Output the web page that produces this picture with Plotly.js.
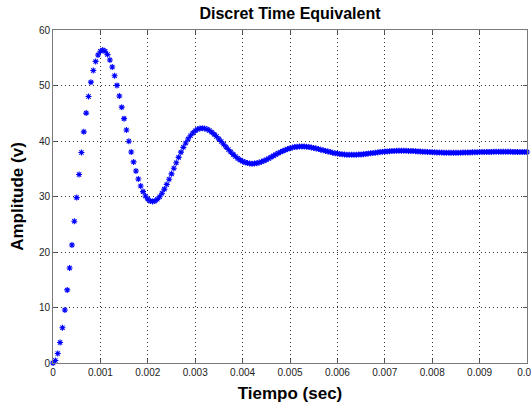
<!DOCTYPE html>
<html>
<head>
<meta charset="utf-8">
<script src="https://cdn.plot.ly/plotly-3.0.1.min.js"></script>
<style>
  html, body { margin: 0; padding: 0; background: #fff; }
  #chart { width: 531px; height: 405px; }
</style>
</head>
<body>
<div id="chart"></div>
<script>
// Sample times in milliseconds (read from the dot spacing: one sample every 0.05 ms)
const timeMs = [
  0,0.05,0.1,0.15,0.2,0.25,0.3,0.35,0.4,0.45,0.5,0.55,0.6,0.65,0.7,0.75,0.8,0.85,0.9,0.95,
  1,1.05,1.1,1.15,1.2,1.25,1.3,1.35,1.4,1.45,1.5,1.55,1.6,1.65,1.7,1.75,1.8,1.85,1.9,1.95,
  2,2.05,2.1,2.15,2.2,2.25,2.3,2.35,2.4,2.45,2.5,2.55,2.6,2.65,2.7,2.75,2.8,2.85,2.9,2.95,
  3,3.05,3.1,3.15,3.2,3.25,3.3,3.35,3.4,3.45,3.5,3.55,3.6,3.65,3.7,3.75,3.8,3.85,3.9,3.95,
  4,4.05,4.1,4.15,4.2,4.25,4.3,4.35,4.4,4.45,4.5,4.55,4.6,4.65,4.7,4.75,4.8,4.85,4.9,4.95,
  5,5.05,5.1,5.15,5.2,5.25,5.3,5.35,5.4,5.45,5.5,5.55,5.6,5.65,5.7,5.75,5.8,5.85,5.9,5.95,
  6,6.05,6.1,6.15,6.2,6.25,6.3,6.35,6.4,6.45,6.5,6.55,6.6,6.65,6.7,6.75,6.8,6.85,6.9,6.95,
  7,7.05,7.1,7.15,7.2,7.25,7.3,7.35,7.4,7.45,7.5,7.55,7.6,7.65,7.7,7.75,7.8,7.85,7.9,7.95,
  8,8.05,8.1,8.15,8.2,8.25,8.3,8.35,8.4,8.45,8.5,8.55,8.6,8.65,8.7,8.75,8.8,8.85,8.9,8.95,
  9,9.05,9.1,9.15,9.2,9.25,9.3,9.35,9.4,9.45,9.5,9.55,9.6,9.65,9.7,9.75,9.8,9.85,9.9,9.95,
  10
];

// Amplitude (v), one value per sample
const amplitude = [
  0.00,0.44,1.70,3.70,6.35,9.54,13.17,17.12,21.27,25.53,29.80,33.96,37.94,41.65,45.03,48.03,50.60,52.71,54.34,55.50,
  56.18,56.40,56.18,55.57,54.60,53.32,51.77,50.02,48.11,46.10,44.03,41.97,39.96,38.03,36.23,34.60,33.15,31.90,30.88,30.09,
  29.53,29.20,29.10,29.20,29.49,29.96,30.58,31.33,32.18,33.11,34.08,35.08,36.08,37.05,37.99,38.86,39.65,40.35,40.95,41.45,
  41.83,42.10,42.26,42.31,42.26,42.12,41.89,41.59,41.23,40.82,40.37,39.90,39.41,38.93,38.46,38.01,37.59,37.20,36.86,36.57,
  36.33,36.15,36.02,35.94,35.91,35.94,36.01,36.12,36.26,36.44,36.64,36.85,37.08,37.32,37.55,37.78,38.00,38.20,38.39,38.55,
  38.69,38.81,38.90,38.96,39.00,39.01,39.00,38.97,38.91,38.84,38.76,38.66,38.56,38.44,38.33,38.22,38.11,38.00,37.90,37.81,
  37.73,37.67,37.61,37.57,37.53,37.52,37.51,37.52,37.53,37.56,37.59,37.63,37.68,37.73,37.78,37.84,37.89,37.95,38.00,38.05,
  38.09,38.13,38.16,38.19,38.21,38.23,38.23,38.24,38.23,38.23,38.21,38.20,38.18,38.15,38.13,38.10,38.08,38.05,38.03,38.00,
  37.98,37.96,37.94,37.92,37.91,37.90,37.89,37.89,37.89,37.89,37.89,37.90,37.90,37.91,37.93,37.94,37.95,37.96,37.98,37.99,
  38.00,38.01,38.02,38.03,38.04,38.04,38.05,38.05,38.05,38.06,38.05,38.05,38.05,38.05,38.04,38.04,38.03,38.02,38.02,38.01,
  38.01
];

const xTickVals = [0,0.001,0.002,0.003,0.004,0.005,0.006,0.007,0.008,0.009,0.01];
const xTickText = ["0","0.001","0.002","0.003","0.004","0.005","0.006","0.007","0.008","0.009","0.01"];
const yTickVals = [0,10,20,30,40,50,60];
const yTickText = ["0","10","20","30","40","50","60"];

const timeSec = timeMs.map(v => v / 1000);

const FONT = "Liberation Sans, Arial, Helvetica, sans-serif";

const trace = {
  type: "scatter",
  mode: "markers",
  x: timeSec,
  y: amplitude,
  marker: {
    symbol: "asterisk-open",
    size: 5,
    color: "#0000ff",
    line: { color: "#0000ff", width: 1.1 }
  },
  hoverinfo: "skip",
  cliponaxis: false
};

const axisCommon = {
  showline: true,
  linecolor: "#7a7a7a",
  linewidth: 1,
  mirror: "ticks",
  ticks: "inside",
  ticklen: 4,
  tickwidth: 1,
  tickcolor: "#555",
  showgrid: true,
  gridcolor: "#333",
  gridwidth: 1,
  griddash: "1px,3px",
  zeroline: false,
  ticklabeloverflow: "allow",
  tickfont: { family: FONT, size: 10, color: "#222" },
  tickmode: "array"
};

const layout = {
  width: 531,
  height: 405,
  margin: { l: 53, r: 4, t: 30, b: 42, pad: 0 },
  paper_bgcolor: "#ffffff",
  plot_bgcolor: "#ffffff",
  showlegend: false,
  title: {
    text: "Discret Time Equivalent",
    font: { family: FONT, size: 16, color: "#000", weight: "bold" },
    x: 0.5, xref: "paper", xanchor: "center",
    y: 1 - 13 / 405, yref: "container", yanchor: "middle"
  },
  xaxis: Object.assign({}, axisCommon, {
    range: [0, 0.01],
    tickvals: xTickVals,
    ticktext: xTickText,
    title: {
      text: "Tiempo (sec)",
      font: { family: FONT, size: 17, color: "#000", weight: "bold" },
      standoff: 10
    }
  }),
  yaxis: Object.assign({}, axisCommon, {
    range: [0, 60],
    tickvals: yTickVals,
    ticktext: yTickText,
    title: {
      text: "Amplitude (v)",
      font: { family: FONT, size: 17, color: "#000", weight: "bold" },
      standoff: 10
    }
  })
};

Plotly.newPlot("chart", [trace], layout, { displayModeBar: false, staticPlot: true });
</script>
</body>
</html>
